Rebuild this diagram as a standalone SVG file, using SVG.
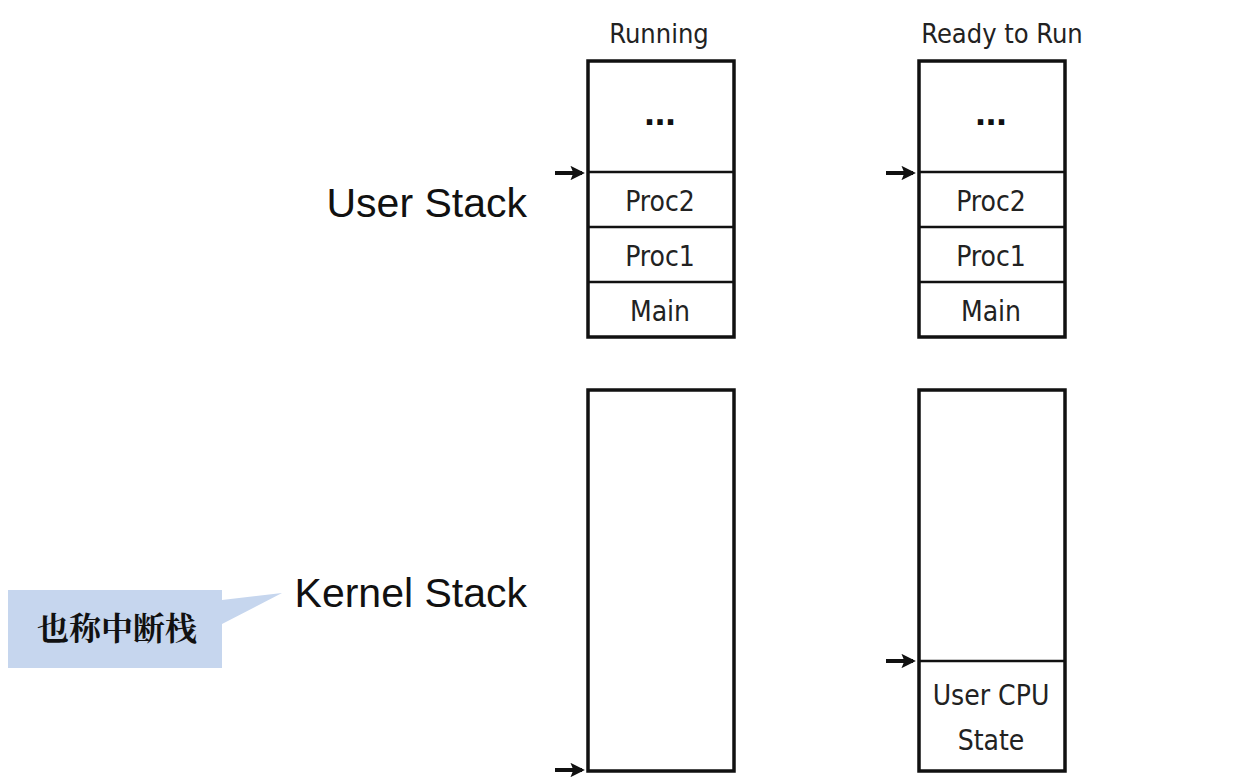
<svg xmlns="http://www.w3.org/2000/svg" width="1237" height="782" viewBox="0 0 1237 782">
<defs>
<style>
.box{fill:#fff;stroke:#111;stroke-width:3.5}
.div{stroke:#111;stroke-width:2.5}
.cell{font-family:"Liberation Sans Narrow","DejaVu Sans Condensed","Liberation Sans",sans-serif;font-size:28px;fill:#222;text-anchor:middle}
.hdr{font-family:"Liberation Sans Narrow","DejaVu Sans Condensed","Liberation Sans",sans-serif;font-size:27px;fill:#222;text-anchor:middle}
.big{font-family:"Liberation Sans",Arial,sans-serif;font-size:41px;fill:#111;text-anchor:end}
.dots{font-family:"Liberation Sans",sans-serif;font-size:38px;font-weight:bold;fill:#111;text-anchor:middle}
.ptr{stroke:#111;stroke-width:4;fill:none;marker-end:url(#ah)}
.cjk{font-family:"Noto Serif CJK SC","Noto Sans CJK SC",serif;font-size:32px;font-weight:bold;fill:#111;text-anchor:middle}
</style>
<marker id="ah" viewBox="0 0 10 10" refX="8" refY="5" markerWidth="3.6" markerHeight="3.6" orient="auto" markerUnits="strokeWidth">
<path d="M0,0 L10,5 L0,10 L2,5 z" fill="#111"/>
</marker>
</defs>
<rect width="1237" height="782" fill="#fff"/>

<g id="headers">
<text class="hdr" x="659" y="43">Running</text>
<text class="hdr" x="1002" y="43">Ready to Run</text>
</g>

<g id="labels">
<text class="big" x="527" y="217">User Stack</text>
<text class="big" x="527" y="607">Kernel Stack</text>
</g>

<g id="callout">
<path d="M8,590 H222 V600 L282,593 L222,624 V668 H8 Z" fill="#c6d6ee"/>
<text class="cjk" x="117" y="640">也称中断栈</text>
</g>

<g id="running-user">
<rect class="box" x="588" y="61" width="146" height="276"/>
<line class="div" x1="588" y1="172" x2="734" y2="172"/>
<line class="div" x1="588" y1="227" x2="734" y2="227"/>
<line class="div" x1="588" y1="282" x2="734" y2="282"/>
<text class="dots" x="660" y="125">...</text>
<text class="cell" x="660" y="211">Proc2</text>
<text class="cell" x="660" y="266">Proc1</text>
<text class="cell" x="660" y="321">Main</text>
</g>

<g id="ready-user">
<rect class="box" x="919" y="61" width="146" height="276"/>
<line class="div" x1="919" y1="172" x2="1065" y2="172"/>
<line class="div" x1="919" y1="227" x2="1065" y2="227"/>
<line class="div" x1="919" y1="282" x2="1065" y2="282"/>
<text class="dots" x="991" y="125">...</text>
<text class="cell" x="991" y="211">Proc2</text>
<text class="cell" x="991" y="266">Proc1</text>
<text class="cell" x="991" y="321">Main</text>
</g>

<g id="running-kernel">
<rect class="box" x="588" y="390" width="146" height="381"/>
</g>

<g id="ready-kernel">
<rect class="box" x="919" y="390" width="146" height="381"/>
<line class="div" x1="919" y1="661" x2="1065" y2="661"/>
<text class="cell" x="991" y="705">User CPU</text>
<text class="cell" x="991" y="750">State</text>
</g>

<g id="connectors">
<line class="ptr" x1="555" y1="173" x2="582" y2="173"/>
<line class="ptr" x1="886" y1="173" x2="913" y2="173"/>
<line class="ptr" x1="886" y1="661" x2="913" y2="661"/>
<line class="ptr" x1="555" y1="770" x2="582" y2="770"/>
</g>
</svg>
